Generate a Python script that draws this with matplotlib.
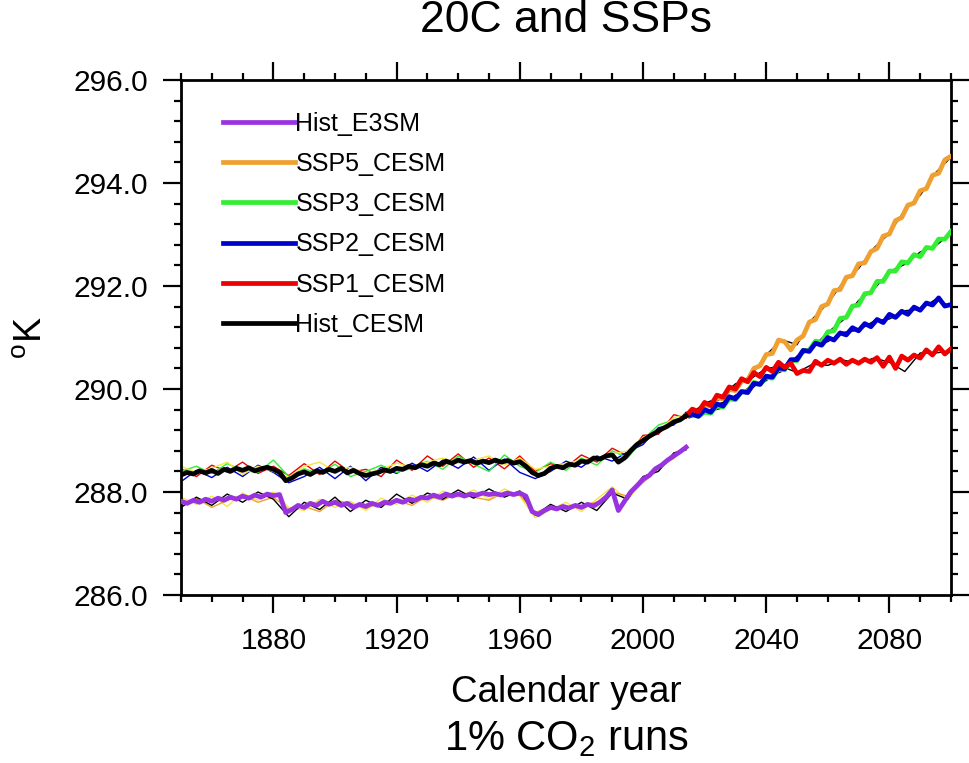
import numpy as np
import matplotlib
matplotlib.use('Agg')
import matplotlib.pyplot as plt
from matplotlib.ticker import MultipleLocator, FormatStrFormatter

plt.rcParams['font.family'] = ['Liberation Sans', 'DejaVu Sans']
plt.rcParams['mathtext.fontset'] = 'custom'
plt.rcParams['mathtext.rm'] = 'Liberation Sans'

# ensemble means, 2-year steps
yr_hist = np.arange(1850, 2015, 2)
hist_cesm = [288.33, 288.38, 288.35, 288.41, 288.37, 288.42, 288.36, 288.44, 288.40, 288.46,
             288.42, 288.47, 288.41, 288.45, 288.48, 288.44, 288.38, 288.22, 288.27, 288.35,
             288.39, 288.34, 288.41, 288.38, 288.44, 288.40, 288.46, 288.37, 288.42, 288.36,
             288.32, 288.35, 288.38, 288.43, 288.40, 288.46, 288.44, 288.50, 288.47, 288.53,
             288.50, 288.56, 288.53, 288.60, 288.56, 288.62, 288.58, 288.61, 288.56, 288.60,
             288.57, 288.62, 288.58, 288.61, 288.56, 288.59, 288.50, 288.38, 288.32, 288.36,
             288.46, 288.50, 288.47, 288.54, 288.52, 288.60, 288.58, 288.66, 288.64, 288.70,
             288.72, 288.58, 288.66, 288.80, 288.92, 289.00, 289.08, 289.15, 289.22, 289.28,
             289.36, 289.40, 289.48]
hist_e3sm = [287.82, 287.78, 287.84, 287.80, 287.86, 287.82, 287.88, 287.84, 287.90, 287.86,
             287.92, 287.88, 287.94, 287.90, 287.96, 287.93, 287.95, 287.60, 287.66, 287.74,
             287.70, 287.78, 287.74, 287.82, 287.76, 287.80, 287.74, 287.78, 287.70, 287.76,
             287.72, 287.78, 287.74, 287.80, 287.78, 287.84, 287.80, 287.86, 287.84, 287.90,
             287.88, 287.94, 287.90, 287.96, 287.92, 287.96, 287.92, 287.96, 287.94, 287.98,
             287.95, 287.97, 287.94, 287.98, 287.95, 287.98, 287.92, 287.62, 287.56, 287.64,
             287.70, 287.67, 287.72, 287.69, 287.74, 287.70, 287.76, 287.73, 287.80, 287.90,
             288.04, 287.64, 287.82, 288.00, 288.12, 288.25, 288.32, 288.45, 288.52, 288.62,
             288.70, 288.78, 288.87]

yr_ssp = np.arange(2014, 2101, 2)
ssp5 = [289.48, 289.57, 289.55, 289.69, 289.67, 289.83, 289.81, 289.99, 289.97, 290.15,
        290.17, 290.40, 290.45, 290.67, 290.69, 290.95, 290.92, 290.76, 290.95, 291.03,
        291.30, 291.35, 291.60, 291.65, 291.91, 291.93, 292.17, 292.20, 292.43, 292.45,
        292.67, 292.73, 292.97, 293.01, 293.27, 293.33, 293.57, 293.61, 293.85, 293.89,
        294.15, 294.19, 294.45, 294.52]
ssp3 = [289.48, 289.50, 289.47, 289.55, 289.53, 289.67, 289.65, 289.81, 289.79, 289.95,
        289.95, 290.13, 290.09, 290.23, 290.21, 290.39, 290.37, 290.55, 290.55, 290.75,
        290.75, 290.93, 290.91, 291.11, 291.13, 291.37, 291.39, 291.61, 291.63, 291.85,
        291.87, 292.09, 292.09, 292.29, 292.29, 292.47, 292.45, 292.61, 292.57, 292.75,
        292.73, 292.91, 292.91, 293.06]
ssp2 = [289.48, 289.51, 289.47, 289.60, 289.55, 289.71, 289.67, 289.85, 289.81, 289.95,
        289.93, 290.11, 290.09, 290.25, 290.23, 290.41, 290.39, 290.57, 290.57, 290.75,
        290.73, 290.89, 290.85, 291.00, 290.95, 291.09, 291.05, 291.19, 291.13, 291.27,
        291.21, 291.35, 291.29, 291.45, 291.39, 291.51, 291.45, 291.59, 291.53, 291.67,
        291.63, 291.77, 291.61, 291.64]
ssp1 = [289.48, 289.61, 289.56, 289.74, 289.68, 289.88, 289.84, 290.04, 290.00, 290.20,
        290.14, 290.32, 290.24, 290.42, 290.34, 290.52, 290.42, 290.50, 290.30, 290.36,
        290.34, 290.54, 290.46, 290.56, 290.50, 290.58, 290.48, 290.56, 290.50, 290.58,
        290.52, 290.61, 290.44, 290.62, 290.40, 290.64, 290.56, 290.66, 290.60, 290.76,
        290.66, 290.82, 290.68, 290.78]

# individual members, 5-year steps
yr_mem = np.append(np.arange(1850, 2015, 5), 2014)
cesm_red = [288.45, 288.30, 288.52, 288.40, 288.58, 288.36, 288.50, 288.32, 288.55, 288.34,
            288.60, 288.38, 288.44, 288.30, 288.62, 288.42, 288.70, 288.50, 288.74, 288.48,
            288.66, 288.45, 288.70, 288.40, 288.55, 288.48, 288.72, 288.58, 288.85, 288.70,
            289.10, 289.12, 289.50, 289.45]
cesm_blue = [288.20, 288.42, 288.28, 288.48, 288.30, 288.52, 288.38, 288.18, 288.30, 288.48,
             288.26, 288.50, 288.22, 288.48, 288.36, 288.56, 288.40, 288.62, 288.46, 288.68,
             288.42, 288.64, 288.38, 288.26, 288.40, 288.60, 288.48, 288.70, 288.60, 288.78,
             288.92, 289.25, 289.30, 289.55]
cesm_green = [288.40, 288.50, 288.36, 288.55, 288.42, 288.38, 288.62, 288.30, 288.45, 288.36,
              288.54, 288.30, 288.40, 288.52, 288.38, 288.46, 288.60, 288.44, 288.70, 288.54,
              288.40, 288.72, 288.50, 288.38, 288.58, 288.42, 288.66, 288.52, 288.80, 288.66,
              289.02, 289.30, 289.40, 289.46]
cesm_yellow = [288.50, 288.38, 288.46, 288.58, 288.34, 288.50, 288.40, 288.28, 288.50, 288.58,
               288.40, 288.48, 288.36, 288.44, 288.56, 288.48, 288.58, 288.66, 288.56, 288.62,
               288.70, 288.52, 288.66, 288.44, 288.50, 288.56, 288.62, 288.66, 288.74, 288.80,
               289.06, 289.20, 289.44, 289.52]
e3sm_black = [287.70, 287.90, 287.74, 287.96, 287.80, 288.00, 287.86, 287.52, 287.80, 287.66,
              287.90, 287.62, 287.84, 287.70, 287.96, 287.78, 287.98, 287.86, 288.04, 287.88,
              288.06, 287.90, 288.02, 287.55, 287.76, 287.62, 287.80, 287.64, 287.98, 287.86,
              288.30, 288.40, 288.76, 288.82]
e3sm_yellow = [287.90, 287.76, 287.92, 287.72, 287.98, 287.84, 288.00, 287.70, 287.64, 287.86,
               287.70, 287.82, 287.64, 287.88, 287.76, 287.94, 287.80, 288.02, 287.90, 288.04,
               287.86, 288.06, 287.92, 287.50, 287.66, 287.80, 287.62, 287.86, 288.10, 287.84,
               288.22, 288.52, 288.64, 288.90]
e3sm_orange = [287.76, 287.88, 287.70, 287.84, 287.94, 287.80, 287.90, 287.66, 287.72, 287.62,
               287.84, 287.78, 287.68, 287.80, 287.84, 287.74, 287.92, 287.84, 287.98, 287.90,
               287.84, 288.00, 287.94, 287.60, 287.72, 287.66, 287.74, 287.80, 288.00, 287.92,
               288.18, 288.44, 288.68, 288.84]

yr_ssp_mem = np.arange(2015, 2101, 5)
ssp5_mem = [289.52, 289.68, 289.80, 290.06, 290.26, 290.66, 290.96, 290.86, 291.36, 291.66,
            292.08, 292.34, 292.74, 293.02, 293.48, 293.76, 294.20, 294.50]
ssp3_mem = [289.44, 289.54, 289.62, 289.88, 290.00, 290.22, 290.34, 290.64, 290.80, 291.10,
            291.34, 291.72, 291.94, 292.28, 292.42, 292.66, 292.78, 293.02]
ssp2_mem = [289.50, 289.52, 289.72, 289.82, 290.06, 290.16, 290.44, 290.58, 290.85, 290.92,
            291.10, 291.14, 291.32, 291.36, 291.52, 291.55, 291.74, 291.60]
ssp1_mem = [289.50, 289.72, 289.84, 290.10, 290.20, 290.40, 290.44, 290.32, 290.48, 290.46,
            290.56, 290.50, 290.60, 290.52, 290.34, 290.70, 290.70, 290.74]

c_purple = '#9933e0'
c_orange = '#f0a030'
c_green = '#33ee33'
c_blue = '#0000cc'
c_red = '#ee0000'
c_yellow = '#f5e642'

fig = plt.figure(figsize=(9.70, 7.63), dpi=100)
ax = fig.add_axes([0.1866, 0.2202, 0.7938, 0.6749])

thin = 1.0
for vals, col in [(cesm_red, c_red), (cesm_blue, c_blue), (cesm_green, c_green),
                  (cesm_yellow, c_yellow)]:
    ax.plot(yr_mem, vals, color=col, lw=thin, zorder=2)
for vals, col in [(e3sm_yellow, c_yellow), (e3sm_orange, c_orange), (e3sm_black, 'k')]:
    ax.plot(yr_mem, vals, color=col, lw=thin, zorder=2)
for vals in [ssp5_mem, ssp3_mem, ssp2_mem, ssp1_mem]:
    ax.plot(yr_ssp_mem, vals, color='k', lw=thin, zorder=2)

thick = 3.4
ax.plot(yr_hist, hist_e3sm, color=c_purple, lw=thick, label='Hist_E3SM', zorder=4)
ax.plot(yr_ssp, ssp5, color=c_orange, lw=thick, label='SSP5_CESM', zorder=4)
ax.plot(yr_ssp, ssp3, color=c_green, lw=thick, label='SSP3_CESM', zorder=4)
ax.plot(yr_ssp, ssp2, color=c_blue, lw=thick, label='SSP2_CESM', zorder=4)
ax.plot(yr_ssp, ssp1, color=c_red, lw=thick, label='SSP1_CESM', zorder=4)
ax.plot(yr_hist, hist_cesm, color='k', lw=thick, label='Hist_CESM', zorder=4)

ax.set_xlim(1850, 2100)
ax.set_ylim(286, 296)
ax.xaxis.set_minor_locator(MultipleLocator(10))
ax.set_xticks([1880, 1920, 1960, 2000, 2040, 2080])
ax.yaxis.set_major_locator(MultipleLocator(2))
ax.yaxis.set_minor_locator(MultipleLocator(0.4))
ax.yaxis.set_major_formatter(FormatStrFormatter('%.1f'))

for s in ax.spines.values():
    s.set_linewidth(2.0)
ax.tick_params(which='both', direction='out', top=True, right=True, width=1.6)
ax.tick_params(which='major', length=13, labelsize=21.5)
ax.tick_params(which='minor', length=5)
ax.tick_params(axis='x', which='major', pad=10)
ax.tick_params(axis='y', which='major', pad=11)

leg = ax.legend(loc='upper left', bbox_to_anchor=(0.0545, 0.9388), frameon=False,
                fontsize=18, handlelength=2.9, handletextpad=0.0, labelspacing=0.65,
                borderpad=0, borderaxespad=0)

fig.text(0.584, 0.958, '20C and SSPs', ha='center', va='baseline', fontsize=32)
fig.text(0.584, 1 - 702 / 763, 'Calendar year', ha='center', va='baseline', fontsize=26.5)
fig.text(0.584, 1 - 750 / 763, r'1% CO$_2$ runs', ha='center', va='baseline', fontsize=30)
fig.text(0.033, 0.558, r'$^{\rm o}$K', ha='center', va='center', rotation=90, fontsize=27)

fig.savefig('out.png', dpi=100)
